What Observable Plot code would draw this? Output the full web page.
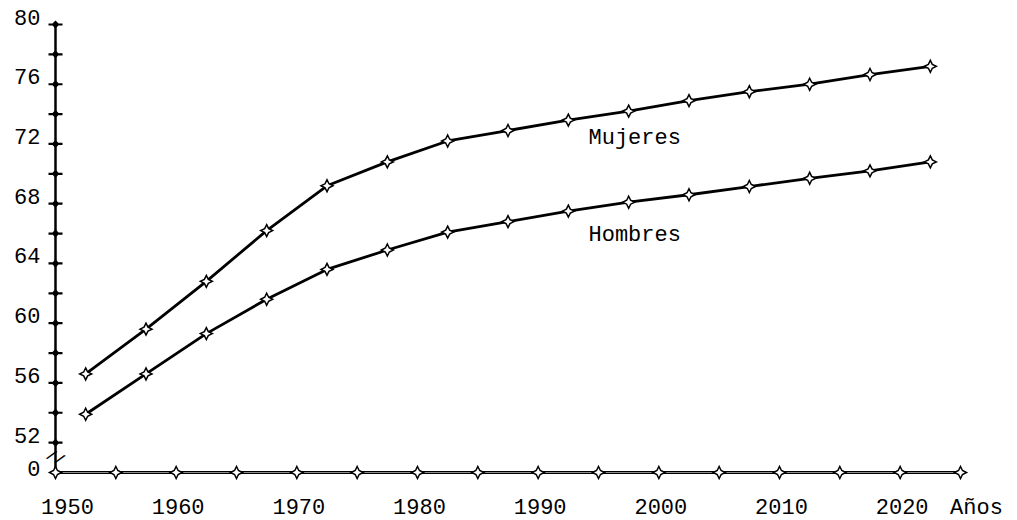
<!DOCTYPE html>
<html>
<head>
<meta charset="utf-8">
<script src="https://cdn.jsdelivr.net/npm/d3@7"></script>
<script src="https://cdn.jsdelivr.net/npm/@observablehq/plot@0.6"></script>
<style>
  html, body { margin: 0; padding: 0; background: #fff; }
  #chart svg { display: block; }
</style>
</head>
<body>
<div id="chart"></div>
<script>
// Data
const years = [1952.5, 1957.5, 1962.5, 1967.5, 1972.5, 1977.5, 1982.5, 1987.5, 1992.5, 1997.5, 2002.5, 2007.5, 2012.5, 2017.5, 2022.5];
const mujeres = [56.6, 59.6, 62.8, 66.2, 69.2, 70.8, 72.2, 72.9, 73.6, 74.2, 74.9, 75.5, 76.0, 76.65, 77.2];
const hombres = [53.9, 56.6, 59.3, 61.6, 63.6, 64.9, 66.1, 66.8, 67.5, 68.1, 68.6, 69.15, 69.7, 70.2, 70.8];
const seriesNames = ["Mujeres", "Hombres"];
const labelYear = [1998, 1998];
const labelValue = [72.45, 66.0];
const firstXTick = [1950];
const xTickValues = [1960, 1970, 1980, 1990, 2000, 2010, 2020];
const xMarkerValues = [1950, 1955, 1960, 1965, 1970, 1975, 1980, 1985, 1990, 1995, 2000, 2005, 2010, 2015, 2020, 2025];
const yTickLabels = [52, 56, 60, 64, 68, 72, 76, 80];
const yMarkerValues = [52, 54, 56, 58, 60, 62, 64, 66, 68, 70, 72, 74, 76, 78, 80];
const baseValue = 50;       // position of the broken-axis "0"
const baseLabel = "0";
const xAxisTitle = "Años";

const rows = [];
years.forEach((y, i) => {
  rows.push({ year: y, value: mujeres[i], serie: seriesNames[0] });
  rows.push({ year: y, value: hombres[i], serie: seriesNames[1] });
});

// 4-point star symbol
const star4 = {
  draw(ctx, size) {
    const r = Math.sqrt(size / Math.PI);
    const i = r * 0.33;
    ctx.moveTo(0, -r); ctx.lineTo(i, -i); ctx.lineTo(r, 0); ctx.lineTo(i, i);
    ctx.lineTo(0, r); ctx.lineTo(-i, i); ctx.lineTo(-r, 0); ctx.lineTo(-i, -i);
    ctx.closePath();
  }
};
// crossing bar tick with small diamond
const barTick = {
  draw(ctx, size) {
    const r = Math.sqrt(size / Math.PI);
    ctx.moveTo(-r, 0); ctx.lineTo(r, 0);
    const d = r * 0.35;
    ctx.moveTo(0, -d); ctx.lineTo(d, 0); ctx.lineTo(0, d); ctx.lineTo(-d, 0); ctx.closePath();
  }
};

const font = "'Liberation Mono', 'DejaVu Sans Mono', monospace";
const fs = 22;

const chart = Plot.plot({
  width: 1017,
  height: 520,
  marginLeft: 55,
  marginRight: 57,
  marginTop: 24,
  marginBottom: 48,
  style: { fontFamily: font, fontSize: fs + "px", color: "#000", background: "#fff" },
  x: { domain: [1950, 2025], axis: null },
  y: { domain: [50, 80], axis: null },
  marks: [
    // y axis line
    Plot.ruleX([1950], { y1: baseValue, y2: 80, stroke: "#000", strokeWidth: 2.5 }),
    // x axis line (double-ish)
    Plot.ruleY([baseValue], { x1: 1950, x2: 2025, stroke: "#000", strokeWidth: 3 }),
    Plot.ruleY([baseValue], { x1: 1950, x2: 2025, stroke: "#fff", strokeWidth: 0.8, strokeOpacity: 0.7 }),
    // y axis bar ticks
    Plot.dot(yMarkerValues, { x: () => 1950, y: d => d, symbol: barTick, r: 7, stroke: "#000", strokeWidth: 2.2, fill: "#fff" }),
    // break mark
    Plot.text([baseValue + 1.0], { x: () => 1950, y: d => d, text: () => "//", fontSize: 15, fontWeight: "bold", rotate: 25 }),
    // x axis markers
    Plot.dot(xMarkerValues, { x: d => d, y: () => baseValue, symbol: star4, r: 6, stroke: "#000", strokeWidth: 1.5, fill: "#fff" }),
    // y tick labels
    Plot.text(yTickLabels, { x: () => 1950, y: d => d, text: d => String(d), textAnchor: "end", dx: -15, dy: -7, fontSize: fs }),
    Plot.text([baseValue], { x: () => 1950, y: d => d, text: () => baseLabel, textAnchor: "end", dx: -15, dy: -4, fontSize: fs }),
    // x tick labels
    Plot.text(firstXTick, { x: d => d, y: () => baseValue, text: d => String(d), dx: 12, dy: 34, fontSize: fs }),
    Plot.text(xTickValues, { x: d => d, y: () => baseValue, text: d => String(d), dx: 2, dy: 34, fontSize: fs }),
    Plot.text([xAxisTitle], { x: () => 2025, y: () => baseValue, text: d => d, dx: 16, dy: 34, fontSize: fs, letterSpacing: "3px" }),
    // series lines
    Plot.line(rows, { x: "year", y: "value", z: "serie", stroke: "#000", strokeWidth: 2.8 }),
    Plot.dot(rows, { x: "year", y: "value", symbol: star4, r: 6, stroke: "#000", strokeWidth: 1.5, fill: "#fff" }),
    // series labels
    Plot.text(seriesNames, { x: (d, i) => labelYear[i], y: (d, i) => labelValue[i], text: d => d, fontSize: fs })
  ]
});
document.getElementById("chart").appendChild(chart);
</script>
</body>
</html>
